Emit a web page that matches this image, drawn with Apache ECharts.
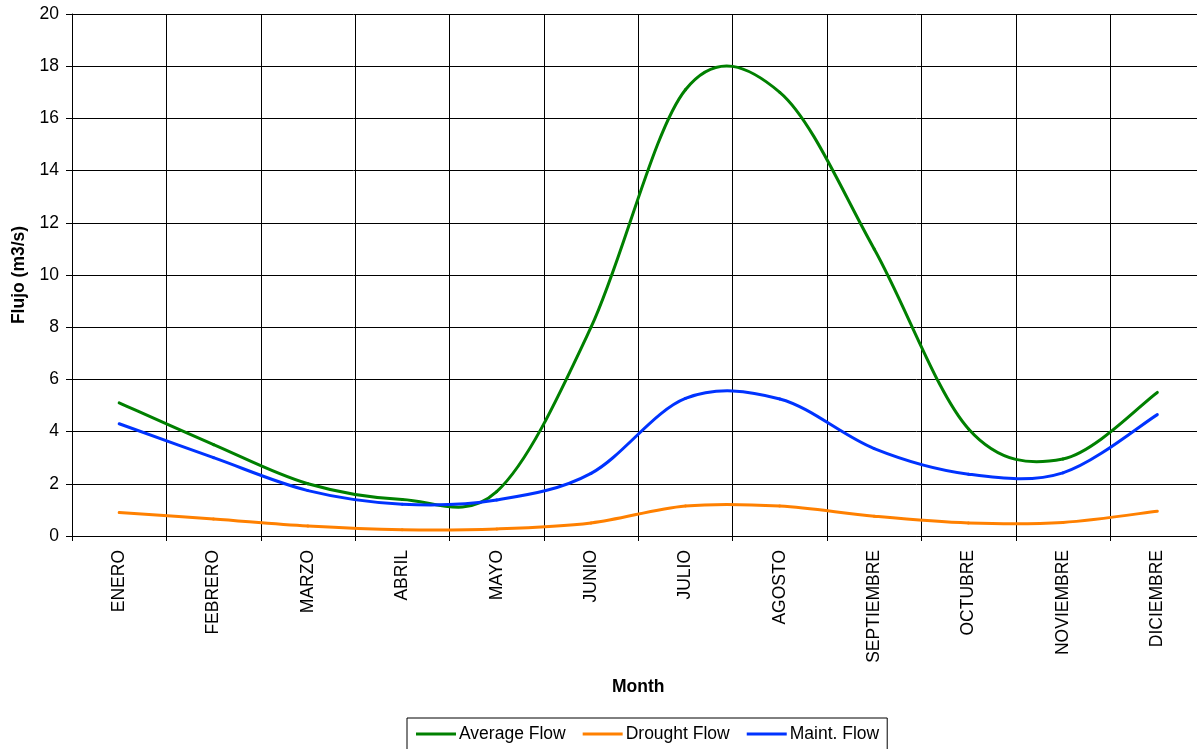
<!DOCTYPE html>
<html>
<head>
<meta charset="utf-8">
<script src="https://cdn.jsdelivr.net/npm/echarts@6/dist/echarts.min.js"></script>
<style>
html,body{margin:0;padding:0;background:#fff;}
#chart{width:1197px;height:749px;}
</style>
</head>
<body>
<div id="chart"></div>
<script>
const months = ['ENERO','FEBRERO','MARZO','ABRIL','MAYO','JUNIO','JULIO','AGOSTO','SEPTIEMBRE','OCTUBRE','NOVIEMBRE','DICIEMBRE'];
const averageFlow = [5.1, 3.5, 2.0, 1.4, 1.7, 8.0, 17.1, 17.0, 11.0, 4.1, 2.95, 5.5];
const droughtFlow = [0.9, 0.65, 0.38, 0.24, 0.27, 0.5, 1.15, 1.15, 0.76, 0.5, 0.52, 0.95];
const maintFlow = [4.3, 3.0, 1.74, 1.22, 1.38, 2.4, 5.27, 5.25, 3.35, 2.37, 2.42, 4.65];
const yTicks = {min: 0, max: 20, interval: 2};

const font = 'Arial, "Liberation Sans", sans-serif';
const chart = echarts.init(document.getElementById('chart'), null, {renderer: 'canvas'});

// Excel-style smoothed line: cubic Bezier segments with Catmull-Rom control points,
// computed from the data points after projection through the chart's axes.
function smoothLine(name, values, color) {
  const n = values.length;
  return {
    name: name,
    type: 'custom',
    data: values.map((v, i) => [i, v]),
    encode: {x: 0, y: 1},
    itemStyle: {color: color},
    clip: false,
    renderItem: function (params, api) {
      const i = params.dataIndex;
      if (i >= n - 1) return null;
      const P = k => {
        const kk = Math.max(0, Math.min(n - 1, k));
        return api.coord([kk, values[kk]]);
      };
      const p0 = P(i - 1), p1 = P(i), p2 = P(i + 1), p3 = P(i + 2);
      const f = 1 / 6;
      return {
        type: 'bezierCurve',
        shape: {
          x1: p1[0], y1: p1[1], x2: p2[0], y2: p2[1],
          cpx1: p1[0] + (p2[0] - p0[0]) * f, cpy1: p1[1] + (p2[1] - p0[1]) * f,
          cpx2: p2[0] - (p3[0] - p1[0]) * f, cpy2: p2[1] - (p3[1] - p1[1]) * f
        },
        style: {fill: 'none', stroke: color, lineWidth: 3, lineCap: 'round', lineJoin: 'round'}
      };
    }
  };
}

chart.setOption({
  animation: false,
  backgroundColor: '#fff',
  grid: {left: 72, width: 1132.5, top: 14, bottom: 213, containLabel: false, outerBoundsMode: 'none'},
  xAxis: {
    type: 'category',
    data: months,
    boundaryGap: true,
    name: 'Month',
    nameLocation: 'middle',
    nameGap: 142,
    nameTextStyle: {fontFamily: font, fontSize: 17.5, fontWeight: 'bold', color: '#000'},
    axisLine: {show: true, lineStyle: {color: '#000', width: 1}},
    axisTick: {show: true, interval: 0, length: 5, lineStyle: {color: '#000'}},
    axisLabel: {interval: 0, rotate: 90, margin: 14, fontFamily: font, fontSize: 17.5, color: '#000'},
    splitLine: {show: true, interval: 0, lineStyle: {color: '#000', width: 1}}
  },
  yAxis: {
    type: 'value',
    min: yTicks.min, max: yTicks.max, interval: yTicks.interval,
    name: 'Flujo (m3/s)',
    nameLocation: 'middle',
    nameGap: 43,
    nameTextStyle: {fontFamily: font, fontSize: 17.5, fontWeight: 'bold', color: '#000'},
    axisLine: {show: true, lineStyle: {color: '#000', width: 1}},
    axisTick: {show: true, length: 6, lineStyle: {color: '#000'}},
    axisLabel: {margin: 13, fontFamily: font, fontSize: 17.5, color: '#000'},
    splitLine: {show: true, lineStyle: {color: '#000', width: 1}}
  },
  legend: {
    left: 407, top: 718,
    orient: 'horizontal',
    padding: [7, 8, 12, 9],
    itemGap: 17,
    itemWidth: 40, itemHeight: 3,
    icon: 'rect',
    borderColor: '#000', borderWidth: 1,
    textStyle: {fontFamily: font, fontSize: 17.5, color: '#000', padding: [0, 0, 0, -2]},
    data: ['Average Flow', 'Drought Flow', 'Maint. Flow']
  },
  series: [
    smoothLine('Average Flow', averageFlow, '#008000'),
    smoothLine('Drought Flow', droughtFlow, '#FF8000'),
    smoothLine('Maint. Flow', maintFlow, '#0033FF')
  ]
});
</script>
</body>
</html>
